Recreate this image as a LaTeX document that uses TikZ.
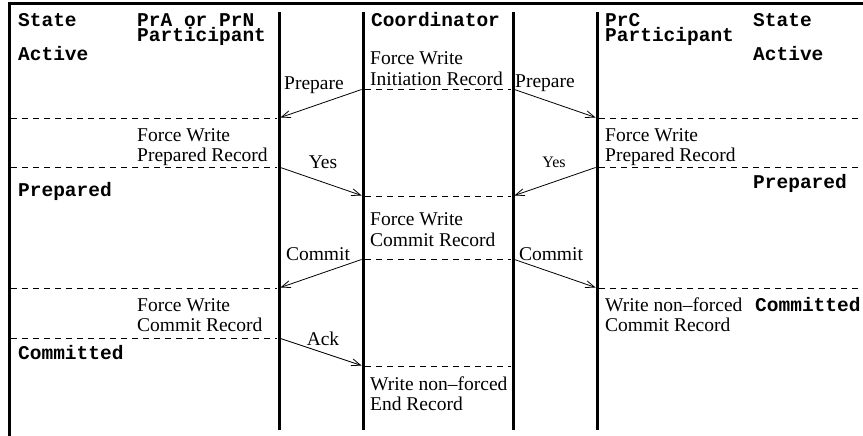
\documentclass[tikz,border=0pt]{standalone}
\usepackage{fontspec}
\setmainfont{Liberation Serif}
\setmonofont{Liberation Mono}
\usetikzlibrary{arrows.meta}
\begin{document}
\begin{tikzpicture}[x=1pt,y=-1pt,
  txt/.style={anchor=base west,inner sep=0pt,font=\fontsize{19.5}{21}\selectfont},
  mono/.style={anchor=base west,inner sep=0pt,font=\fontsize{19.5}{13}\selectfont\ttfamily\bfseries},
  twoline/.style={anchor=north west,inner sep=0pt,align=left,font=\fontsize{19.5}{14}\selectfont\ttfamily\bfseries},
  lbl/.style={anchor=base,inner sep=0pt,font=\fontsize{19.5}{21}\selectfont},
  border/.style={line width=3pt},
  life/.style={line width=3pt},
  rec/.style={dash pattern=on 6pt off 5pt,line width=0.8pt},
  msg/.style={line width=0.8pt,shorten >=1.5pt,shorten <=1.5pt,-{Straight Barb[length=9pt,width=7pt,line width=0.8pt]}}]
\useasboundingbox (0,0) rectangle (863,436);
% frame
\draw[border] (863,3.5) -- (9.5,3.5) -- (9.5,436);
% lifelines
\coordinate (LAt) at (279,12); \coordinate (LAb) at (279,430);
\coordinate (CLt) at (363,12); \coordinate (CLb) at (363,430);
\coordinate (CRt) at (513,12); \coordinate (CRb) at (513,430);
\coordinate (LCt) at (597,12); \coordinate (LCb) at (597,430);
\draw[life] (LAt) -- (LAb);
\draw[life] (CLt) -- (CLb);
\draw[life] (CRt) -- (CRb);
\draw[life] (LCt) -- (LCb);
% dashed record lines
\foreach \y in {118,167,288,338} \draw[rec] (11,\y) -- (277,\y);
\foreach \y in {118,167,288} \draw[rec] (599,\y) -- (863,\y);
\foreach \y in {89,196,259,366} \draw[rec] (365,\y) -- (511,\y);
% headers
\node[mono] (st1) at (18,27) {State};
\node[twoline] (pa) at (137,13) {PrA or PrN\\Participant};
\node[mono] (co) at (371,27) {Coordinator};
\node[twoline] (pc) at (605,13) {PrC\\Participant};
\node[mono] (st2) at (753,27) {State};
% states
\node[mono] (ac1) at (18,61) {Active};
\node[mono] (ac2) at (753,61) {Active};
\node[mono] (pr1) at (18,196) {Prepared};
\node[mono] (pr2) at (753,188) {Prepared};
\node[mono] (cm1) at (18,359) {Committed};
\node[mono] (cm2) at (755,311) {Committed};
% records
\node[txt] (c1a) at (370,65) {Force Write};
\node[txt] (c1b) at (370,86) {Initiation Record};
\node[txt] (l1a) at (137,141) {Force Write};
\node[txt] (l1b) at (137,161) {Prepared Record};
\node[txt] (r1a) at (605,141) {Force Write};
\node[txt] (r1b) at (605,161) {Prepared Record};
\node[txt] (c2a) at (370,225) {Force Write};
\node[txt] (c2b) at (370,246) {Commit Record};
\node[txt] (l2a) at (137,311) {Force Write};
\node[txt] (l2b) at (137,331) {Commit Record};
\node[txt] (r2a) at (605,311) {Write non--forced};
\node[txt] (r2b) at (605,331) {Commit Record};
\node[txt] (c3a) at (370,390) {Write non--forced};
\node[txt] (c3b) at (370,410) {End Record};
% message endpoints
\coordinate (m1s) at (363,89);  \coordinate (m1e) at (279,118);
\coordinate (m2s) at (513,89);  \coordinate (m2e) at (597,118);
\coordinate (m3s) at (279,167); \coordinate (m3e) at (363,196);
\coordinate (m4s) at (597,167); \coordinate (m4e) at (513,196);
\coordinate (m5s) at (363,259); \coordinate (m5e) at (279,288);
\coordinate (m6s) at (513,259); \coordinate (m6e) at (597,288);
\coordinate (m7s) at (279,338); \coordinate (m7e) at (363,366);
\draw[msg] (m1s) -- (m1e);
\draw[msg] (m2s) -- (m2e);
\draw[msg] (m3s) -- (m3e);
\draw[msg] (m4s) -- (m4e);
\draw[msg] (m5s) -- (m5e);
\draw[msg] (m6s) -- (m6e);
\draw[msg] (m7s) -- (m7e);
% message labels
\node[lbl] (p1) at (314,90) {Prepare};
\node[lbl] (p2) at (545,88) {Prepare};
\node[lbl] (y1) at (323,168) {Yes};
\node[lbl,font=\fontsize{16}{18}\selectfont] (y2) at (554,167) {Yes};
\node[lbl] (k1) at (318,260) {Commit};
\node[lbl] (k2) at (551,260) {Commit};
\node[lbl] (ak) at (323,345) {Ack};
\end{tikzpicture}
\end{document}
